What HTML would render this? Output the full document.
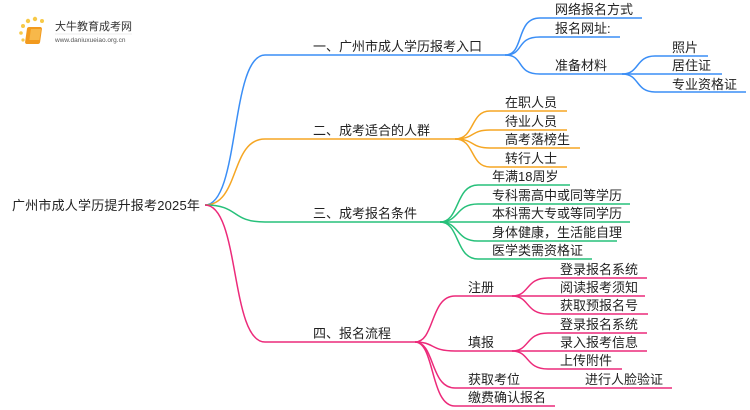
<!DOCTYPE html>
<html><head><meta charset="utf-8"><style>
html,body{margin:0;padding:0;background:#fff;width:750px;height:410px;overflow:hidden}
text{font-family:"Liberation Sans","Noto Sans CJK SC",sans-serif;font-size:13px;fill:#222}
</style></head><body>
<svg width="750" height="410" viewBox="0 0 750 410" xmlns="http://www.w3.org/2000/svg">
<g>
<circle cx="21" cy="33" r="1.8" fill="#f7c948"/><circle cx="23" cy="26" r="2" fill="#f7c948"/><circle cx="28" cy="21" r="2.2" fill="#f7c948"/><circle cx="35" cy="19" r="2.2" fill="#f7c948"/><circle cx="42" cy="21" r="2" fill="#f7c948"/><circle cx="23" cy="40" r="1.6" fill="#f7c948"/>
<rect x="31" y="27" width="15" height="17" rx="2" fill="#f29a1e" transform="skewX(-8)"/>
<rect x="35" y="29" width="10" height="11" fill="#f7b84a" transform="skewX(-8)"/>
<text x="55" y="30" style="font-size:11px;fill:#333">大牛教育成考网</text>
<line x1="55" y1="34" x2="132" y2="34" stroke="#ddd" stroke-width="0.6"/>
<text x="55" y="42" style="font-size:6.5px;fill:#555">www.daniuxueiao.org.cn</text>
</g>
<text x="12" y="210" letter-spacing="0.2">广州市成人学历提升报考2025年</text>
<g fill="none" stroke-width="1.5">
<g stroke="#3a8ef6">
<path d="M205,205 C240,205 230,55 265,55 L505,55"/>
<path d="M505,55 C525,55 515,18 540,18 L642,18"/>
<path d="M505,55 C525,55 515,37 540,37 L620,37"/>
<path d="M505,55 C525,55 515,74 540,74 L622,74"/>
<path d="M622,74 C640,74 635,56 655,56 L708,56"/>
<path d="M622,74 L722,74"/>
<path d="M622,74 C640,74 635,92 655,92 L746,92"/>
</g>
<g stroke="#f5a623">
<path d="M205,205 C240,205 230,139 265,139 L455,139"/>
<path d="M455,139 C475,139 470,111 490,111 L567,111"/>
<path d="M455,139 C475,139 470,130 490,130 L567,130"/>
<path d="M455,139 C475,139 470,148 490,148 L580,148"/>
<path d="M455,139 C475,139 470,167 490,167 L567,167"/>
</g>
<g stroke="#27c07a">
<path d="M205,205 C240,205 230,222 265,222 L440,222"/>
<path d="M440,222 C460,222 455,185 478,185 L570,185"/>
<path d="M440,222 C460,222 455,204 478,204 L630,204"/>
<path d="M440,222 L630,222"/>
<path d="M440,222 C460,222 455,241 478,241 L617,241"/>
<path d="M440,222 C460,222 455,259 478,259 L592,259"/>
</g>
<g stroke="#ec2a7a">
<path d="M205,205 C240,205 230,342 265,342 L415,342"/>
<path d="M415,342 C435,342 430,296 455,296 L512,296"/>
<path d="M415,342 C435,342 430,351 455,351 L512,351"/>
<path d="M415,342 C435,342 430,388 455,388 L672,388"/>
<path d="M415,342 C435,342 430,406 455,406 L555,406"/>
<path d="M512,296 C530,296 525,278 548,278 L647,278"/>
<path d="M512,296 L645,296"/>
<path d="M512,296 C530,296 525,314 548,314 L648,314"/>
<path d="M512,351 C530,351 525,333 548,333 L647,333"/>
<path d="M512,351 L647,351"/>
<path d="M512,351 C530,351 525,369 548,369 L622,369"/>
</g>
</g>
<text x="313" y="51">一、广州市成人学历报考入口</text>
<text x="555" y="14">网络报名方式</text>
<text x="555" y="33">报名网址:</text>
<text x="555" y="70">准备材料</text>
<text x="672" y="52">照片</text>
<text x="672" y="70">居住证</text>
<text x="672" y="89">专业资格证</text>
<text x="313" y="135">二、成考适合的人群</text>
<text x="505" y="107">在职人员</text>
<text x="505" y="126">待业人员</text>
<text x="505" y="144">高考落榜生</text>
<text x="505" y="163">转行人士</text>
<text x="313" y="218">三、成考报名条件</text>
<text x="492" y="181">年满18周岁</text>
<text x="492" y="200">专科需高中或同等学历</text>
<text x="492" y="218">本科需大专或等同学历</text>
<text x="492" y="237">身体健康，生活能自理</text>
<text x="492" y="255">医学类需资格证</text>
<text x="313" y="338">四、报名流程</text>
<text x="468" y="292">注册</text>
<text x="468" y="347">填报</text>
<text x="468" y="384">获取考位</text>
<text x="468" y="402">缴费确认报名</text>
<text x="560" y="274">登录报名系统</text>
<text x="560" y="292">阅读报考须知</text>
<text x="560" y="310">获取预报名号</text>
<text x="560" y="329">登录报名系统</text>
<text x="560" y="347">录入报考信息</text>
<text x="560" y="365">上传附件</text>
<text x="585" y="384">进行人脸验证</text>
</svg>
</body></html>
